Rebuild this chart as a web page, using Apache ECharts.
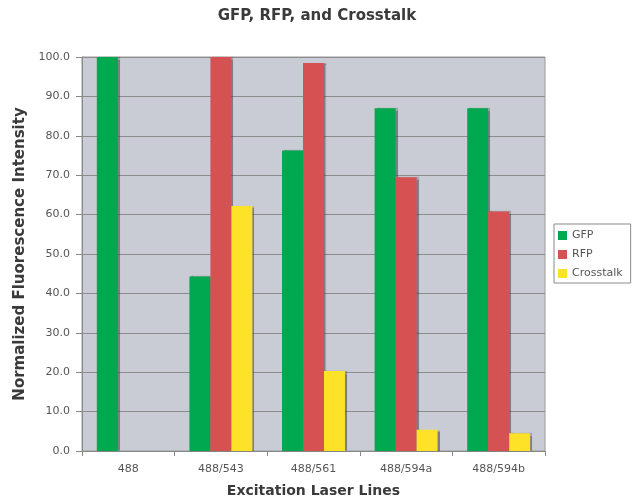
<!DOCTYPE html>
<html>
<head>
<meta charset="utf-8">
<script src="https://cdn.jsdelivr.net/npm/echarts@6/dist/echarts.min.js"></script>
<style>
  html, body { margin: 0; padding: 0; background: #fff; }
  #chart { width: 634px; height: 500px; }
</style>
</head>
<body>
<div id="chart"></div>
<script>
// Excitation laser lines and normalized intensities per channel
const categories = ['488', '488/543', '488/561', '488/594a', '488/594b'];
const gfp = [100.0, 44.3, 76.3, 87.0, 87.0];
const rfp = [null, 100.0, 98.5, 69.5, 60.8];
const crosstalk = [null, 62.2, 20.3, 5.4, 4.5];
const yTicks = { min: 0, max: 100, interval: 10 };

const font = 'DejaVu Sans, Verdana, sans-serif';
const barShadow = {
  shadowColor: 'rgba(60,60,70,0.55)',
  shadowOffsetX: 2,
  shadowOffsetY: 0,
  shadowBlur: 1
};

function barSeries(name, data, color) {
  return {
    name: name,
    type: 'bar',
    data: data,
    barGap: '0%',
    barCategoryGap: '32%',
    itemStyle: Object.assign({ color: color }, barShadow)
  };
}

const chart = echarts.init(document.getElementById('chart'));
chart.setOption({
  animation: false,
  title: {
    text: 'GFP, RFP, and Crosstalk',
    left: 'center',
    top: 4,
    textStyle: { fontFamily: font, fontSize: 15, fontWeight: 'bold', color: '#3a3a3a' }
  },
  grid: {
    left: 82, right: 89, top: 57, bottom: 49,
    containLabel: false,
    outerBoundsMode: 'none',
    show: true,
    backgroundColor: '#c9ccd4',
    borderColor: '#9a9a9a',
    borderWidth: 1
  },
  legend: {
    orient: 'vertical',
    left: 554,
    top: 224,
    itemWidth: 9,
    itemHeight: 9,
    itemGap: 8,
    padding: [6, 8, 4, 4],
    borderColor: '#8a8a8a',
    borderWidth: 1,
    icon: 'rect',
    textStyle: { fontFamily: font, fontSize: 11, color: '#555' },
    data: ['GFP', 'RFP', 'Crosstalk']
  },
  xAxis: {
    type: 'category',
    data: categories,
    name: 'Excitation Laser Lines',
    nameLocation: 'middle',
    nameGap: 33,
    nameTextStyle: { fontFamily: font, fontSize: 14, fontWeight: 'bold', color: '#3a3a3a' },
    axisLine: { lineStyle: { color: '#888' } },
    axisTick: { show: true, length: 5, lineStyle: { color: '#888' } },
    axisLabel: { fontFamily: font, fontSize: 11, color: '#555', margin: 13 }
  },
  yAxis: {
    type: 'value',
    min: yTicks.min,
    max: yTicks.max,
    interval: yTicks.interval,
    name: 'Normalized Fluorescence Intensity',
    nameLocation: 'middle',
    nameGap: 54,
    nameTextStyle: { fontFamily: font, fontSize: 15, fontWeight: 'bold', color: '#3a3a3a' },
    axisLine: { show: true, lineStyle: { color: '#888' } },
    axisTick: { show: true, length: 6, lineStyle: { color: '#888' } },
    axisLabel: {
      fontFamily: font, fontSize: 11, color: '#555', margin: 12,
      formatter: v => v.toFixed(1)
    },
    splitLine: { show: true, lineStyle: { color: '#8c8c8c', width: 1 } }
  },
  series: [
    barSeries('GFP', gfp, '#00a84f'),
    barSeries('RFP', rfp, '#d65252'),
    barSeries('Crosstalk', crosstalk, '#fde228')
  ]
});
</script>
</body>
</html>
